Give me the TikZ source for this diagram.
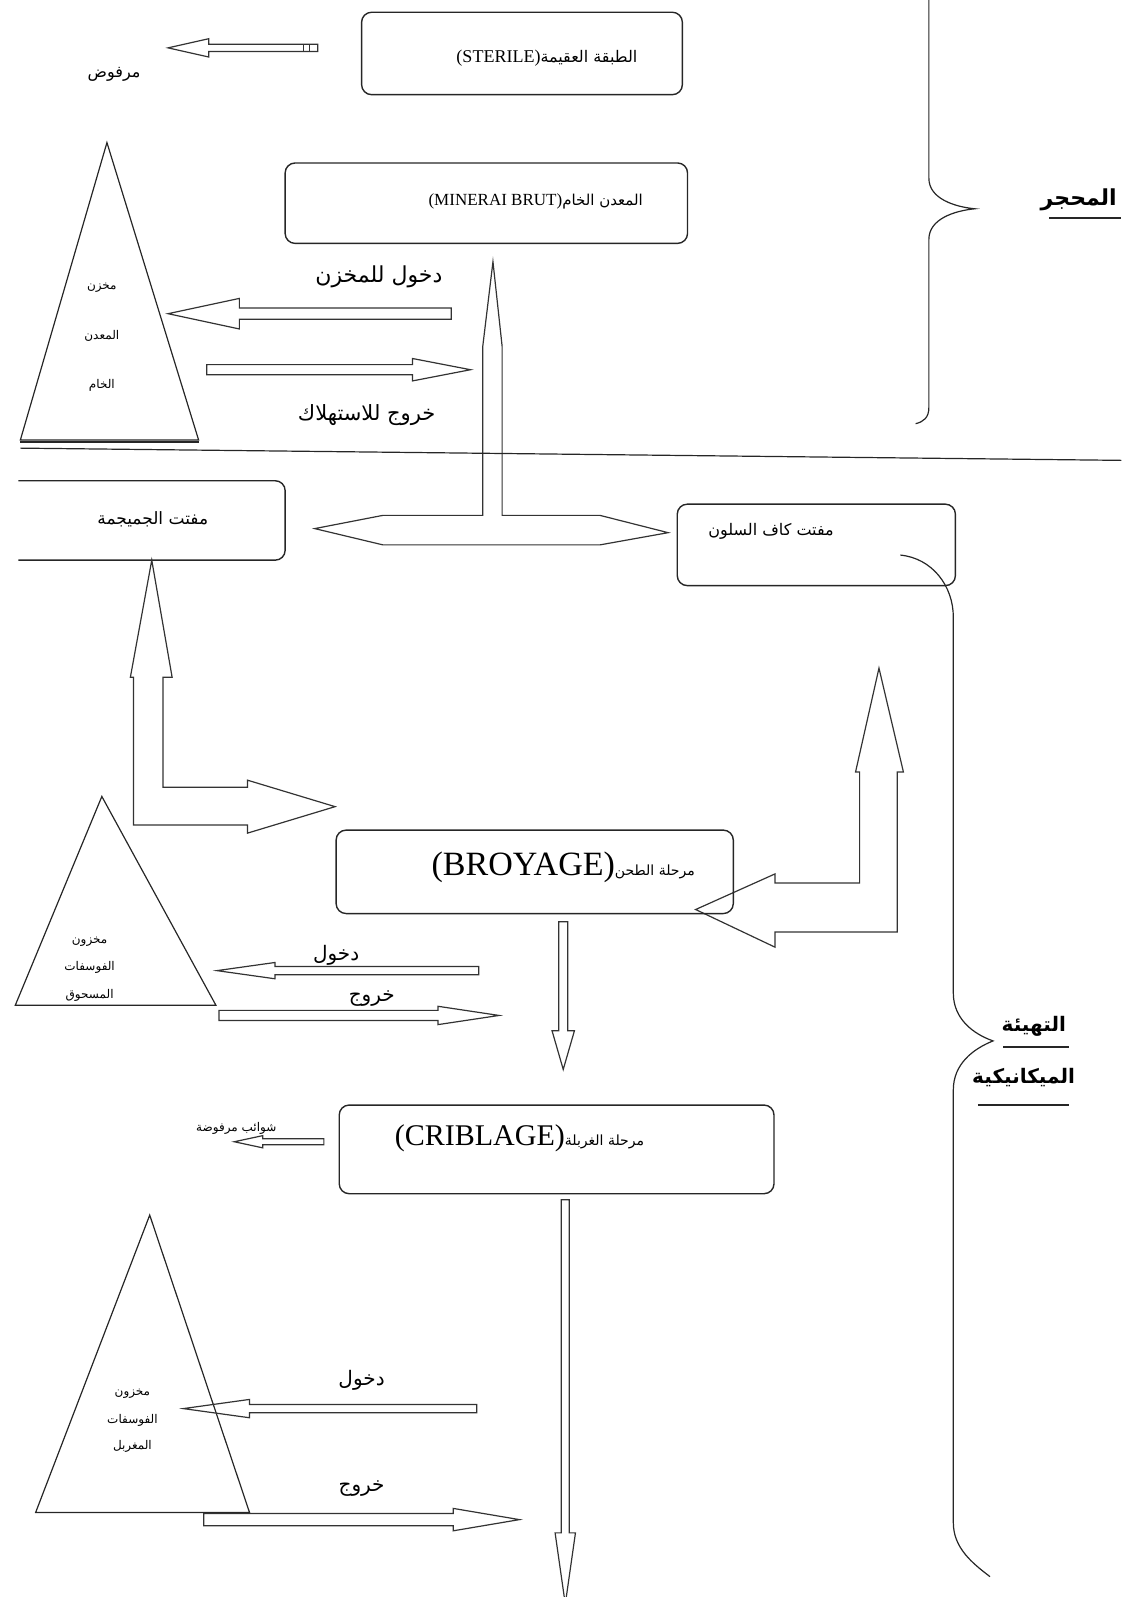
\documentclass[tikz,border=0pt]{standalone}
\usepackage{fontspec}
\setmainfont{Liberation Serif}
\newfontfamily\arabicfont[Script=Arabic]{DejaVu Sans}
\TeXXeTstate=1
\newcommand{\arb}[1]{{\arabicfont\beginR #1\endR}}
% hollow arrows: tail, tip, axis, head base, shaft half width, head half width
\newcommand{\harrow}[6]{%
  \draw[hollow] (#1,#3-#5) -- (#4,#3-#5) -- (#4,#3-#6) -- (#2,#3) -- (#4,#3+#6) -- (#4,#3+#5) -- (#1,#3+#5) -- cycle;}
\newcommand{\varrow}[6]{%
  \draw[hollow] (#3-#5,#1) -- (#3-#5,#4) -- (#3-#6,#4) -- (#3,#2) -- (#3+#6,#4) -- (#3+#5,#4) -- (#3+#5,#1) -- cycle;}

\begin{document}
\begin{tikzpicture}[x=0.509pt,y=-0.509pt,line width=0.6pt,
  box/.style={draw=black!85,rounded corners=5pt,line width=0.7pt},
  hollow/.style={draw=black!80,line width=0.6pt},
  artxt/.style={inner sep=0pt,font=\arabicfont\fontsize{#1}{#1}\selectfont},
  headtxt/.style={inner sep=0pt,font=\arabicfont\bfseries\fontsize{#1}{#1}\selectfont}]
\useasboundingbox (0,0) rectangle (1101,1568);

% quarry
\node[box,minimum width=160.3pt,minimum height=41.2pt] (sterile) at (512.5,52.5) {};
\node[inner sep=0pt] (steriletxt) at (537,57) {\fontsize{9}{9}\selectfont(STERILE)\arb{\fontsize{8}{8}\selectfont الطبقة العقيمة}};
\node[artxt=8] (rejet) at (112,73) {\beginR مرفوض\endR};
\harrow{312}{165}{47}{205}{3.5}{9}
\draw[black!80] (298,43.5) -- (298,50.5) (304,43.5) -- (304,50.5);

\draw[black!85] (912,-5) -- (912,175) .. controls (912,195) and (937,203) .. (957,205)
  .. controls (937,207) and (912,215) .. (912,235) -- (912,400)
  .. controls (912,410) and (907,414) .. (899,416);
\node[headtxt=11,anchor=east] (mahjar) at (1097,196) {\beginR المحجر\endR};
\draw[black!85] (1030,214) -- (1101,214);

\node[box,minimum width=201.1pt,minimum height=40.2pt] (minerai) at (477.5,199.5) {};
\node[inner sep=0pt] (mineraitxt) at (526,198) {\fontsize{8.5}{8.5}\selectfont(MINERAI BRUT)\arb{\fontsize{7.5}{7.5}\selectfont المعدن الخام}};

\draw[black!85] (105,140) -- (195,432) -- (20,432) -- cycle;
\draw[black!85,line width=1.2pt] (20,434) -- (195,434);
\node[artxt=6] (stock1a) at (100,283) {\beginR مخزن\endR};
\node[artxt=6] (stock1b) at (100,330) {\beginR المعدن\endR};
\node[artxt=6] (stock1c) at (100,378) {\beginR الخام\endR};

\harrow{443}{165}{308}{235}{5.5}{15}
\node[artxt=11] (entree1) at (372,272) {\beginR دخول للمخزن\endR};
\harrow{203}{462}{363}{405}{5}{11}
\node[artxt=10.5] (sortie1) at (360,408) {\beginR خروج للاستهلاك\endR};

\draw[hollow] (309,519) -- (376,506) -- (474,506) -- (474,340) -- (484,257) -- (493,340)
  -- (493,506) -- (589,506) -- (656,523) -- (589,535) -- (376,535) -- cycle;
\draw[black!85] (20,440) -- (1101,452);

% mechanical preparation
\draw[black!85,rounded corners=5pt,line width=0.7pt] (18,472) -- (280,472) -- (280,550) -- (18,550);
\node[artxt=8.5] (jmjm) at (150,510) {\beginR مفتت الجميجمة\endR};
\node[box,minimum width=139pt,minimum height=40.7pt] (kaf) at (801.5,535) {};
\node[artxt=8] (kaftxt) at (757,522) {\beginR مفتت كاف السلون\endR};

\draw[black!85] (884,545) .. controls (915,548) and (936,575) .. (936,606) -- (936,975)
  .. controls (936,1000) and (955,1015) .. (975,1022)
  .. controls (955,1030) and (936,1045) .. (936,1070) -- (936,1495)
  .. controls (936,1520) and (955,1535) .. (972,1548);
\node[headtxt=10] (tahyia) at (1015,1008) {\beginR التهيئة\endR};
\draw[black!85] (985,1028) -- (1050,1028);
\node[headtxt=10] (mikanik) at (1005,1058) {\beginR الميكانيكية\endR};
\draw[black!85] (960,1085) -- (1050,1085);

\draw[hollow] (149,550) -- (169,665) -- (160,665) -- (160,773) -- (243,773) -- (243,766)
  -- (329,792) -- (243,818) -- (243,810) -- (131,810) -- (131,665) -- (128,665) -- cycle;
\draw[hollow] (863,656) -- (887,758) -- (881,758) -- (881,915) -- (761,915) -- (761,930)
  -- (683,893) -- (761,858) -- (761,867) -- (844,867) -- (844,758) -- (840,758) -- cycle;

\node[box,minimum width=198.5pt,minimum height=41.7pt] (broyage) at (525,856) {};
\node[inner sep=0pt] (broyagetxt) at (553,852) {\fontsize{17}{17}\selectfont(BROYAGE)\arb{\fontsize{7}{7}\selectfont مرحلة الطحن}};
\varrow{905}{1050}{553}{1012}{4.5}{11}

\draw[black!85] (100,782) -- (212,987) -- (15,987) -- cycle;
\node[artxt=6] (stock2a) at (88,925) {\beginR مخزون\endR};
\node[artxt=6] (stock2b) at (88,950) {\beginR الفوسفات\endR};
\node[artxt=6] (stock2c) at (88,977) {\beginR المسحوق\endR};
\harrow{470}{213}{953}{270}{4}{8}
\node[artxt=10] (entree2) at (330,938) {\beginR دخول\endR};
\harrow{215}{490}{997}{430}{5}{9}
\node[artxt=10] (sortie2) at (365,980) {\beginR خروج\endR};

\node[box,minimum width=217.3pt,minimum height=44.3pt] (criblage) at (546.5,1128.5) {};
\node[inner sep=0pt] (criblagetxt) at (510,1118) {\fontsize{15}{15}\selectfont(CRIBLAGE)\arb{\fontsize{7}{7}\selectfont مرحلة الغربلة}};
\node[artxt=6] (rejets) at (232,1108) {\beginR شوائب مرفوضة\endR};
\harrow{318}{230}{1121}{258}{3}{6}
\varrow{1178}{1575}{555}{1505}{4}{10}

\draw[black!85] (147,1193) -- (245,1485) -- (35,1485) -- cycle;
\node[artxt=6] (stock3a) at (130,1368) {\beginR مخزون\endR};
\node[artxt=6] (stock3b) at (130,1395) {\beginR الفوسفات\endR};
\node[artxt=6] (stock3c) at (130,1420) {\beginR المغربل\endR};
\harrow{468}{180}{1383}{245}{4}{9}
\node[artxt=10] (entree3) at (355,1355) {\beginR دخول\endR};
\harrow{200}{510}{1492}{445}{6}{11}
\node[artxt=10] (sortie3) at (355,1462) {\beginR خروج\endR};
\end{tikzpicture}
\end{document}
